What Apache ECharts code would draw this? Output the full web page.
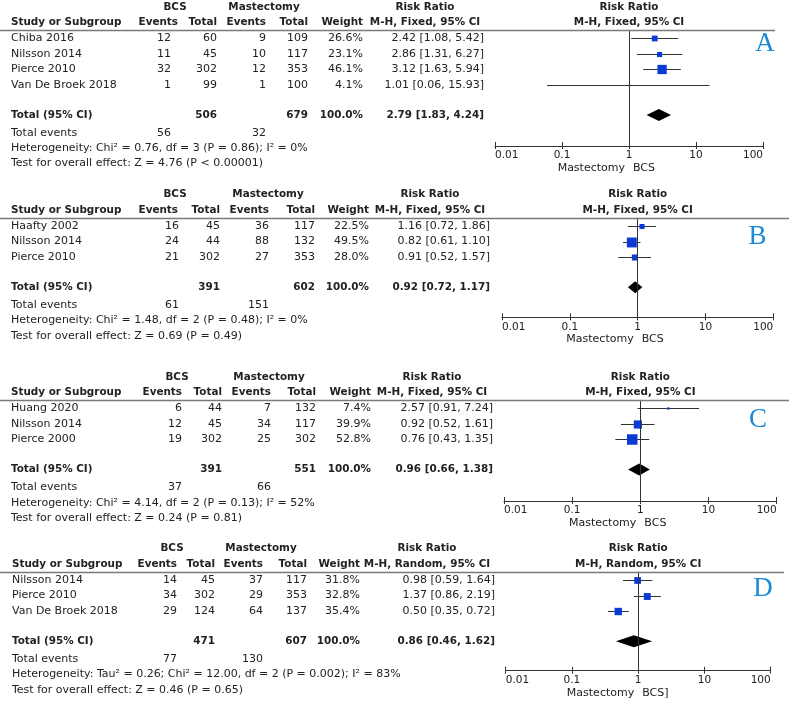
<!DOCTYPE html>
<html><head><meta charset="utf-8">
<script src="https://cdn.jsdelivr.net/npm/echarts@6/dist/echarts.min.js"></script>
<style>html,body{margin:0;padding:0;background:#fff}#c{width:789px;height:705px}</style>
</head><body><div id="c"></div>
<script>
// ---------------- DATA ----------------
// Panel A
const studiesA = ['Chiba 2016', 'Nilsson 2014', 'Pierce 2010', 'Van De Broek 2018'];
const bcsEventsA = [12, 11, 32, 1];
const bcsTotalA = [60, 45, 302, 99];
const mastEventsA = [9, 10, 12, 1];
const mastTotalA = [109, 117, 353, 100];
const weightA = [26.6, 23.1, 46.1, 4.1];
const rrA = [2.42, 2.86, 3.12, 1.01];
const lowA = [1.08, 1.31, 1.63, 0.06];
const highA = [5.42, 6.27, 5.94, 15.93];
const totalA = { bcsTotal: 506, mastTotal: 679, weight: 100.0, rr: 2.79, low: 1.83, high: 4.24, bcsEvents: 56, mastEvents: 32 };
const hetA = 'Heterogeneity: Chi\u00b2 = 0.76, df = 3 (P = 0.86); I\u00b2 = 0%';
const testA = 'Test for overall effect: Z = 4.76 (P < 0.00001)';

// Panel B
const studiesB = ['Haafty 2002', 'Nilsson 2014', 'Pierce 2010'];
const bcsEventsB = [16, 24, 21];
const bcsTotalB = [45, 44, 302];
const mastEventsB = [36, 88, 27];
const mastTotalB = [117, 132, 353];
const weightB = [22.5, 49.5, 28.0];
const rrB = [1.16, 0.82, 0.91];
const lowB = [0.72, 0.61, 0.52];
const highB = [1.86, 1.10, 1.57];
const totalB = { bcsTotal: 391, mastTotal: 602, weight: 100.0, rr: 0.92, low: 0.72, high: 1.17, bcsEvents: 61, mastEvents: 151 };
const hetB = 'Heterogeneity: Chi\u00b2 = 1.48, df = 2 (P = 0.48); I\u00b2 = 0%';
const testB = 'Test for overall effect: Z = 0.69 (P = 0.49)';

// Panel C
const studiesC = ['Huang 2020', 'Nilsson 2014', 'Pierce 2000'];
const bcsEventsC = [6, 12, 19];
const bcsTotalC = [44, 45, 302];
const mastEventsC = [7, 34, 25];
const mastTotalC = [132, 117, 302];
const weightC = [7.4, 39.9, 52.8];
const rrC = [2.57, 0.92, 0.76];
const lowC = [0.91, 0.52, 0.43];
const highC = [7.24, 1.61, 1.35];
const totalC = { bcsTotal: 391, mastTotal: 551, weight: 100.0, rr: 0.96, low: 0.66, high: 1.38, bcsEvents: 37, mastEvents: 66 };
const hetC = 'Heterogeneity: Chi\u00b2 = 4.14, df = 2 (P = 0.13); I\u00b2 = 52%';
const testC = 'Test for overall effect: Z = 0.24 (P = 0.81)';

// Panel D
const studiesD = ['Nilsson 2014', 'Pierce 2010', 'Van De Broek 2018'];
const bcsEventsD = [14, 34, 29];
const bcsTotalD = [45, 302, 124];
const mastEventsD = [37, 29, 64];
const mastTotalD = [117, 353, 137];
const weightD = [31.8, 32.8, 35.4];
const rrD = [0.98, 1.37, 0.50];
const lowD = [0.59, 0.86, 0.35];
const highD = [1.64, 2.19, 0.72];
const totalD = { bcsTotal: 471, mastTotal: 607, weight: 100.0, rr: 0.86, low: 0.46, high: 1.62, bcsEvents: 77, mastEvents: 130 };
const hetD = 'Heterogeneity: Tau\u00b2 = 0.26; Chi\u00b2 = 12.00, df = 2 (P = 0.002); I\u00b2 = 83%';
const testD = 'Test for overall effect: Z = 0.46 (P = 0.65)';

const panelLetters = ['A', 'B', 'C', 'D'];
const methods = ['M-H, Fixed, 95% CI', 'M-H, Fixed, 95% CI', 'M-H, Fixed, 95% CI', 'M-H, Random, 95% CI'];
const rightLabels = ['BCS', 'BCS', 'BCS', 'BCS]'];

const panels = [
  { studies: studiesA, be: bcsEventsA, bt: bcsTotalA, me: mastEventsA, mt: mastTotalA, w: weightA, rr: rrA, lo: lowA, hi: highA, tot: totalA, het: hetA, test: testA },
  { studies: studiesB, be: bcsEventsB, bt: bcsTotalB, me: mastEventsB, mt: mastTotalB, w: weightB, rr: rrB, lo: lowB, hi: highB, tot: totalB, het: hetB, test: testB },
  { studies: studiesC, be: bcsEventsC, bt: bcsTotalC, me: mastEventsC, mt: mastTotalC, w: weightC, rr: rrC, lo: lowC, hi: highC, tot: totalC, het: hetC, test: testC },
  { studies: studiesD, be: bcsEventsD, bt: bcsTotalD, me: mastEventsD, mt: mastTotalD, w: weightD, rr: rrD, lo: lowD, hi: highD, tot: totalD, het: hetD, test: testD }
];

// ---------------- LAYOUT ----------------
const layouts = [
  { left: 495, right: 26, top: 30, height: 116, ymax: 7.53, ruleEnd: 775, letter: [765, 44],
    cols: { name: 11, ev1h: 178, ev1: 171, tot1: 217, ev2: 266, tot2: 308, wt: 363, ci: 484, bcsC: 175, mastC: 264, rrC: 425 } },
  { left: 502, right: 15.7, top: 217.7, height: 99.6, ymax: 6.47, ruleEnd: 789, letter: [757.5, 237],
    cols: { name: 11, ev1h: 178, ev1: 179, tot1: 220, ev2: 269, tot2: 315, wt: 369, ci: 490, bcsC: 175, mastC: 268, rrC: 430 } },
  { left: 504, right: 12.3, top: 400, height: 101, ymax: 6.56, ruleEnd: 789, letter: [758, 420],
    cols: { name: 11, ev1h: 182, ev1: 182, tot1: 222, ev2: 271, tot2: 316, wt: 371, ci: 493, bcsC: 177, mastC: 269, rrC: 432 } },
  { left: 505.7, right: 18.3, top: 571.7, height: 99, ymax: 6.43, ruleEnd: 784, letter: [763, 589],
    cols: { name: 12, ev1h: 177, ev1: 177, tot1: 215, ev2: 263, tot2: 307, wt: 360, ci: 495, bcsC: 172, mastC: 261, rrC: 427 } }
];

const FONT = '"DejaVu Sans", sans-serif';
const REG = '11px ' + FONT;
const BOLD = 'bold 10.4px ' + FONT;
const TEXT_COLOR = '#222';
const SQUARE_COLOR = '#0b3bd6';

function studyRow(i) { return i + 0.55; }
function totalRow(n) { return n + 1.52; }

function tickFmt(v) {
  const e = Math.round(Math.log10(v));
  return e < 0 ? Math.pow(10, e).toFixed(-e) : String(Math.round(Math.pow(10, e)));
}

function renderStudy(params, api) {
  const y = api.value(4);
  const c = api.coord([api.value(0), y]);
  const l = api.coord([api.value(1), y]);
  const r = api.coord([api.value(2), y]);
  const s = 1 + 0.18 * api.value(3);
  const yy = Math.round(c[1]) + 0.5;
  return { type: 'group', children: [
    { type: 'line', shape: { x1: l[0], y1: yy, x2: r[0], y2: yy }, style: { stroke: '#333', lineWidth: 1 } },
    { type: 'rect', shape: { x: c[0] - s / 2, y: yy - s / 2, width: s, height: s }, style: { fill: SQUARE_COLOR } }
  ] };
}

function renderDiamond(params, api) {
  const y = api.value(3);
  const c = api.coord([api.value(0), y]);
  const l = api.coord([api.value(1), y]);
  const r = api.coord([api.value(2), y]);
  const h = 6;
  return { type: 'polygon', shape: { points: [[l[0], c[1]], [c[0], c[1] - h], [r[0], c[1]], [c[0], c[1] + h]] },
    style: { fill: '#000' } };
}

const chart = echarts.init(document.getElementById('c'), null, { renderer: 'canvas' });

const grids = [], xAxes = [], yAxes = [], series = [];
panels.forEach((P, p) => {
  const L = layouts[p];
  grids.push({ left: L.left, right: L.right, top: L.top, height: L.height, containLabel: false });
  xAxes.push({
    gridIndex: p, type: 'log', logBase: 10, min: 0.01, max: 100, position: 'bottom',
    axisLine: { show: true, onZero: false, lineStyle: { color: '#333', width: 1 } },
    axisTick: { show: true, inside: false, length: 3, lineStyle: { color: '#333', width: 1 } },
    minorTick: { show: false }, splitLine: { show: false },
    axisLabel: { show: true, margin: 4, color: TEXT_COLOR, fontFamily: FONT, fontSize: 10.5,
      formatter: tickFmt, alignMinLabel: 'left', alignMaxLabel: 'right', showMinLabel: true, showMaxLabel: true }
  });
  xAxes.push({
    gridIndex: p, type: 'log', logBase: 10, min: 0.01, max: 100, position: 'bottom',
    axisLine: { show: false, onZero: false },
    axisTick: { show: true, inside: true, length: 4, lineStyle: { color: '#333', width: 1 } },
    splitLine: { show: false }, axisLabel: { show: false }
  });
  yAxes.push({ gridIndex: p, type: 'value', inverse: true, min: 0, max: L.ymax, show: false, splitLine: { show: false } });

  const n = P.studies.length;
  const studyData = P.studies.map((s, i) => [P.rr[i], P.lo[i], P.hi[i], P.w[i], studyRow(i)]);
  series.push({
    type: 'custom', xAxisIndex: 2 * p, yAxisIndex: p, renderItem: renderStudy, clip: false,
    encode: { x: [0, 1, 2], y: 4 }, data: studyData, silent: true, z: 3,
    markLine: { silent: true, symbol: 'none', label: { show: false },
      lineStyle: { color: '#333', width: 1, type: 'solid' }, data: [{ xAxis: 1 }] }
  });
  series.push({
    type: 'custom', xAxisIndex: 2 * p, yAxisIndex: p, renderItem: renderDiamond, clip: false,
    encode: { x: [0, 1, 2], y: 3 }, data: [[P.tot.rr, P.tot.low, P.tot.high, totalRow(n)]], silent: true, z: 4
  });
});

chart.setOption({ animation: false, grid: grids, xAxis: xAxes, yAxis: yAxes, series: series });

// ---------------- TABLE TEXT (placed through the axes) ----------------
const gfx = [];
function T(text, x, y, align, font, color) {
  gfx.push({ type: 'text', silent: true, z: 10,
    style: { text: String(text), x: x, y: y, font: font || REG, fill: color || TEXT_COLOR,
      textAlign: align || 'left', textVerticalAlign: 'middle', align: align || 'left', verticalAlign: 'middle' } });
}
const ci = (r, l, h) => r.toFixed(2) + ' [' + l.toFixed(2) + ', ' + h.toFixed(2) + ']';

panels.forEach((P, p) => {
  const L = layouts[p], C = L.cols;
  const finder = { xAxisIndex: 2 * p, yAxisIndex: p };
  const py = v => chart.convertToPixel(finder, [1, v])[1];
  const px = v => chart.convertToPixel(finder, [v, 0])[0];
  const n = P.studies.length;
  const x1 = px(1), xl = px(0.01), xr = px(100), xc = (xl + xr) / 2;

  // header rule
  const ruleY = Math.round(py(0)) + 0.5;
  gfx.push({ type: 'line', silent: true, z: 5, shape: { x1: 0, y1: ruleY, x2: L.ruleEnd, y2: ruleY },
    style: { stroke: '#7a7a7a', lineWidth: 1.5 } });

  // headers
  const h1 = py(-1.5), h2 = py(-0.48);
  T('BCS', C.bcsC, h1, 'center', BOLD);
  T('Mastectomy', C.mastC, h1, 'center', BOLD);
  T('Risk Ratio', C.rrC, h1, 'center', BOLD);
  T('Risk Ratio', xc, h1, 'center', BOLD);
  T('Study or Subgroup', C.name, h2, 'left', BOLD);
  T('Events', C.ev1h, h2, 'right', BOLD);
  T('Total', C.tot1, h2, 'right', BOLD);
  T('Events', C.ev2, h2, 'right', BOLD);
  T('Total', C.tot2, h2, 'right', BOLD);
  T('Weight', C.wt, h2, 'right', BOLD);
  T(methods[p], C.rrC, h2, 'center', BOLD);
  T(methods[p], xc, h2, 'center', BOLD);

  // study rows
  P.studies.forEach((s, i) => {
    const y = py(studyRow(i));
    T(s, C.name, y, 'left');
    T(P.be[i], C.ev1, y, 'right');
    T(P.bt[i], C.tot1, y, 'right');
    T(P.me[i], C.ev2, y, 'right');
    T(P.mt[i], C.tot2, y, 'right');
    T(P.w[i].toFixed(1) + '%', C.wt, y, 'right');
    T(ci(P.rr[i], P.lo[i], P.hi[i]), C.ci, y, 'right');
  });

  // total row
  const tr = totalRow(n), ty = py(tr);
  T('Total (95% CI)', C.name, ty, 'left', BOLD);
  T(P.tot.bcsTotal, C.tot1, ty, 'right', BOLD);
  T(P.tot.mastTotal, C.tot2, ty, 'right', BOLD);
  T(P.tot.weight.toFixed(1) + '%', C.wt, ty, 'right', BOLD);
  T(ci(P.tot.rr, P.tot.low, P.tot.high), C.ci, ty, 'right', BOLD);

  // footer
  const fe = py(tr + 1.15);
  T('Total events', C.name, fe, 'left');
  T(P.tot.bcsEvents, C.ev1, fe, 'right');
  T(P.tot.mastEvents, C.ev2, fe, 'right');
  T(P.het, C.name, py(tr + 2.15), 'left');
  T(P.test, C.name, py(tr + 3.15), 'left');

  // axis side labels
  const ay = py(L.ymax) + 22;
  T('Mastectomy', x1 - 4, ay, 'right');
  T(rightLabels[p], x1 + 4, ay, 'left');

  // panel letter
  T(panelLetters[p], L.letter[0], L.letter[1], 'center', '27px "Liberation Serif", serif', '#1c8ad6');
});

chart.setOption({ graphic: gfx });
</script>
</body></html>
